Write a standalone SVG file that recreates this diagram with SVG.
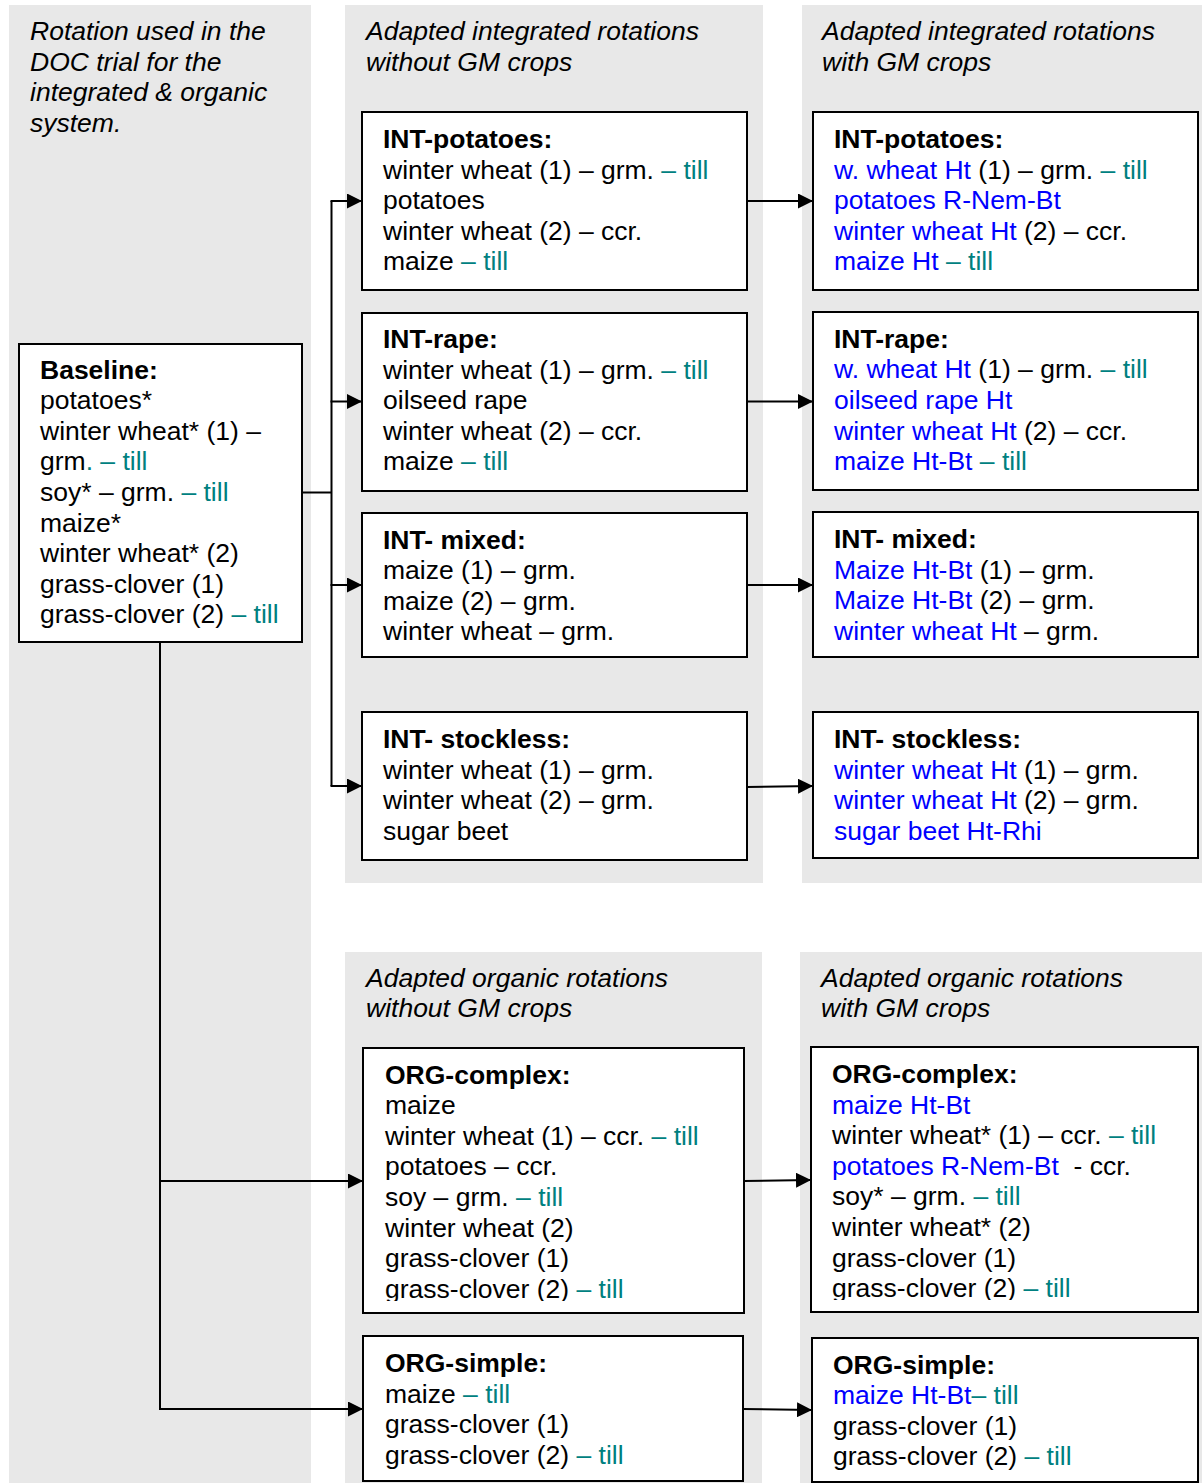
<svg xmlns="http://www.w3.org/2000/svg" width="1202" height="1483" viewBox="0 0 1202 1483">
<style>
  .panel { fill: #e8e8e8; }
  .box { fill: #ffffff; stroke: #000000; stroke-width: 2; }
  text { font-family: "Liberation Sans", Arial, sans-serif; font-size: 26.5px; fill: #000000; }
  .hdr { font-style: italic; }
  .ttl { font-weight: bold; }
  .t { fill: #008080; }
  .b { fill: #0000ff; }
  .conn { fill: none; stroke: #000000; stroke-width: 2; }
</style>
<defs>
  <marker id="arr" markerUnits="userSpaceOnUse" markerWidth="16" markerHeight="15" refX="15" refY="7.5" orient="auto">
    <path d="M0,0 L15,7.5 L0,15 z" fill="#000000"/>
  </marker>
  <clipPath id="clipOC1"><rect x="363" y="1048" width="381" height="253"/></clipPath>
  <clipPath id="clipOC2"><rect x="811" y="1047" width="387" height="253"/></clipPath>
</defs>

<!-- background panels -->
<g id="panels">
  <rect class="panel" x="9" y="5" width="302" height="1478"/>
  <rect class="panel" x="345" y="5" width="418" height="878"/>
  <rect class="panel" x="802" y="5" width="400" height="878"/>
  <rect class="panel" x="345" y="952" width="417" height="531"/>
  <rect class="panel" x="800" y="952" width="402" height="531"/>
</g>

<g id="headers">
  <text class="hdr" x="30" y="40">Rotation used in the</text>
  <text class="hdr" x="30" y="70.5">DOC trial for the</text>
  <text class="hdr" x="30" y="101">integrated &amp; organic</text>
  <text class="hdr" x="30" y="131.5">system.</text>
  <text class="hdr" x="366" y="40">Adapted integrated rotations</text>
  <text class="hdr" x="366" y="70.5">without GM crops</text>
  <text class="hdr" x="822" y="40">Adapted integrated rotations</text>
  <text class="hdr" x="822" y="70.5">with GM crops</text>
  <text class="hdr" x="366" y="987">Adapted organic rotations</text>
  <text class="hdr" x="366" y="1017">without GM crops</text>
  <text class="hdr" x="821" y="987">Adapted organic rotations</text>
  <text class="hdr" x="821" y="1017">with GM crops</text>
</g>

<g id="connectors">
  <path class="conn" d="M302,492.5 H331.5"/>
  <path class="conn" d="M331.5,201 V786"/>
  <path class="conn" d="M330.5,201 H362" marker-end="url(#arr)"/>
  <path class="conn" d="M330.5,401.5 H362" marker-end="url(#arr)"/>
  <path class="conn" d="M330.5,585 H362" marker-end="url(#arr)"/>
  <path class="conn" d="M330.5,786 H362" marker-end="url(#arr)"/>
  <path class="conn" d="M747,201 H813" marker-end="url(#arr)"/>
  <path class="conn" d="M747,401.5 H813" marker-end="url(#arr)"/>
  <path class="conn" d="M747,585 H813" marker-end="url(#arr)"/>
  <path class="conn" d="M747,787 L813,786" marker-end="url(#arr)"/>
  <path class="conn" d="M160,642 V1409 H363" marker-end="url(#arr)"/>
  <path class="conn" d="M160,1181 H363" marker-end="url(#arr)"/>
  <path class="conn" d="M744,1181 L811,1180" marker-end="url(#arr)"/>
  <path class="conn" d="M743,1409 L812,1410" marker-end="url(#arr)"/>
</g>

<g id="node-baseline">
  <rect class="box" x="19" y="344" width="283" height="298"/>
  <text class="ttl" x="40" y="378.5">Baseline:</text>
  <text x="40" y="409.1">potatoes*</text>
  <text x="40" y="439.7">winter wheat* (1) –</text>
  <text x="40" y="470.3">grm<tspan class="t">. – till</tspan></text>
  <text x="40" y="500.9">soy* – grm. <tspan class="t">– till</tspan></text>
  <text x="40" y="531.5">maize*</text>
  <text x="40" y="562.1">winter wheat* (2)</text>
  <text x="40" y="592.7">grass-clover (1)</text>
  <text x="40" y="623.3">grass-clover (2) <tspan class="t">– till</tspan></text>
</g>

<g id="node-int-potatoes">
  <rect class="box" x="362" y="112" width="385" height="178"/>
  <text class="ttl" x="383" y="148">INT-potatoes:</text>
  <text x="383" y="178.6">winter wheat (1) – grm. <tspan class="t">– till</tspan></text>
  <text x="383" y="209.2">potatoes</text>
  <text x="383" y="239.8">winter wheat (2) – ccr.</text>
  <text x="383" y="270.4">maize <tspan class="t">– till</tspan></text>
</g>

<g id="node-int-rape">
  <rect class="box" x="362" y="313" width="385" height="178"/>
  <text class="ttl" x="383" y="348">INT-rape:</text>
  <text x="383" y="378.6">winter wheat (1) – grm. <tspan class="t">– till</tspan></text>
  <text x="383" y="409.2">oilseed rape</text>
  <text x="383" y="439.8">winter wheat (2) – ccr.</text>
  <text x="383" y="470.4">maize <tspan class="t">– till</tspan></text>
</g>

<g id="node-int-mixed">
  <rect class="box" x="362" y="513" width="385" height="144"/>
  <text class="ttl" x="383" y="548.5">INT- mixed:</text>
  <text x="383" y="579.1">maize (1) – grm.</text>
  <text x="383" y="609.7">maize (2) – grm.</text>
  <text x="383" y="640.3">winter wheat – grm.</text>
</g>

<g id="node-int-stockless">
  <rect class="box" x="362" y="712" width="385" height="148"/>
  <text class="ttl" x="383" y="748">INT- stockless:</text>
  <text x="383" y="778.6">winter wheat (1) – grm.</text>
  <text x="383" y="809.2">winter wheat (2) – grm.</text>
  <text x="383" y="839.8">sugar beet</text>
</g>

<g id="node-int-potatoes-gm">
  <rect class="box" x="813" y="112" width="385" height="178"/>
  <text class="ttl" x="834" y="148">INT-potatoes:</text>
  <text x="834" y="178.6"><tspan class="b">w. wheat Ht</tspan> (1) – grm. <tspan class="t">– till</tspan></text>
  <text x="834" y="209.2" class="b">potatoes R-Nem-Bt</text>
  <text x="834" y="239.8"><tspan class="b">winter wheat Ht</tspan> (2) – ccr.</text>
  <text x="834" y="270.4"><tspan class="b">maize Ht</tspan> <tspan class="t">– till</tspan></text>
</g>

<g id="node-int-rape-gm">
  <rect class="box" x="813" y="312" width="385" height="178"/>
  <text class="ttl" x="834" y="347.7">INT-rape:</text>
  <text x="834" y="378.3"><tspan class="b">w. wheat Ht</tspan> (1) – grm. <tspan class="t">– till</tspan></text>
  <text x="834" y="408.9" class="b">oilseed rape Ht</text>
  <text x="834" y="439.5"><tspan class="b">winter wheat Ht</tspan> (2) – ccr.</text>
  <text x="834" y="470.1"><tspan class="b">maize Ht-Bt</tspan> <tspan class="t">– till</tspan></text>
</g>

<g id="node-int-mixed-gm">
  <rect class="box" x="813" y="512" width="385" height="145"/>
  <text class="ttl" x="834" y="548">INT- mixed:</text>
  <text x="834" y="578.6"><tspan class="b">Maize Ht-Bt</tspan> (1) – grm.</text>
  <text x="834" y="609.2"><tspan class="b">Maize Ht-Bt</tspan> (2) – grm.</text>
  <text x="834" y="639.8"><tspan class="b">winter wheat Ht</tspan> – grm.</text>
</g>

<g id="node-int-stockless-gm">
  <rect class="box" x="813" y="712" width="385" height="146"/>
  <text class="ttl" x="834" y="748">INT- stockless:</text>
  <text x="834" y="778.6"><tspan class="b">winter wheat Ht</tspan> (1) – grm.</text>
  <text x="834" y="809.2"><tspan class="b">winter wheat Ht</tspan> (2) – grm.</text>
  <text x="834" y="839.8" class="b">sugar beet Ht-Rhi</text>
</g>

<g id="node-org-complex">
  <rect class="box" x="363" y="1048" width="381" height="265"/>
  <g clip-path="url(#clipOC1)">
    <text class="ttl" x="385" y="1083.5">ORG-complex:</text>
    <text x="385" y="1114.1">maize</text>
    <text x="385" y="1144.7">winter wheat (1) – ccr. <tspan class="t">– till</tspan></text>
    <text x="385" y="1175.3">potatoes – ccr.</text>
    <text x="385" y="1205.9">soy – grm. <tspan class="t">– till</tspan></text>
    <text x="385" y="1236.5">winter wheat (2)</text>
    <text x="385" y="1267.1">grass-clover (1)</text>
    <text x="385" y="1297.7">grass-clover (2) <tspan class="t">– till</tspan></text>
  </g>
</g>

<g id="node-org-complex-gm">
  <rect class="box" x="811" y="1047" width="387" height="265"/>
  <g clip-path="url(#clipOC2)">
    <text class="ttl" x="832" y="1083">ORG-complex:</text>
    <text x="832" y="1113.6" class="b">maize Ht-Bt</text>
    <text x="832" y="1144.2">winter wheat* (1) – ccr. <tspan class="t">– till</tspan></text>
    <text x="832" y="1174.8"><tspan class="b">potatoes R-Nem-Bt</tspan>&#160; - ccr.</text>
    <text x="832" y="1205.4">soy* – grm. <tspan class="t">– till</tspan></text>
    <text x="832" y="1236">winter wheat* (2)</text>
    <text x="832" y="1266.6">grass-clover (1)</text>
    <text x="832" y="1297.2">grass-clover (2) <tspan class="t">– till</tspan></text>
  </g>
</g>

<g id="node-org-simple">
  <rect class="box" x="363" y="1336" width="380" height="145"/>
  <text class="ttl" x="385" y="1372">ORG-simple:</text>
  <text x="385" y="1402.6">maize <tspan class="t">– till</tspan></text>
  <text x="385" y="1433.2">grass-clover (1)</text>
  <text x="385" y="1463.8">grass-clover (2) <tspan class="t">– till</tspan></text>
</g>

<g id="node-org-simple-gm">
  <rect class="box" x="812" y="1338" width="386" height="144"/>
  <text class="ttl" x="833" y="1373.5">ORG-simple:</text>
  <text x="833" y="1404.1"><tspan class="b">maize Ht-Bt</tspan><tspan class="t">– till</tspan></text>
  <text x="833" y="1434.7">grass-clover (1)</text>
  <text x="833" y="1465.3">grass-clover (2) <tspan class="t">– till</tspan></text>
</g>
</svg>
